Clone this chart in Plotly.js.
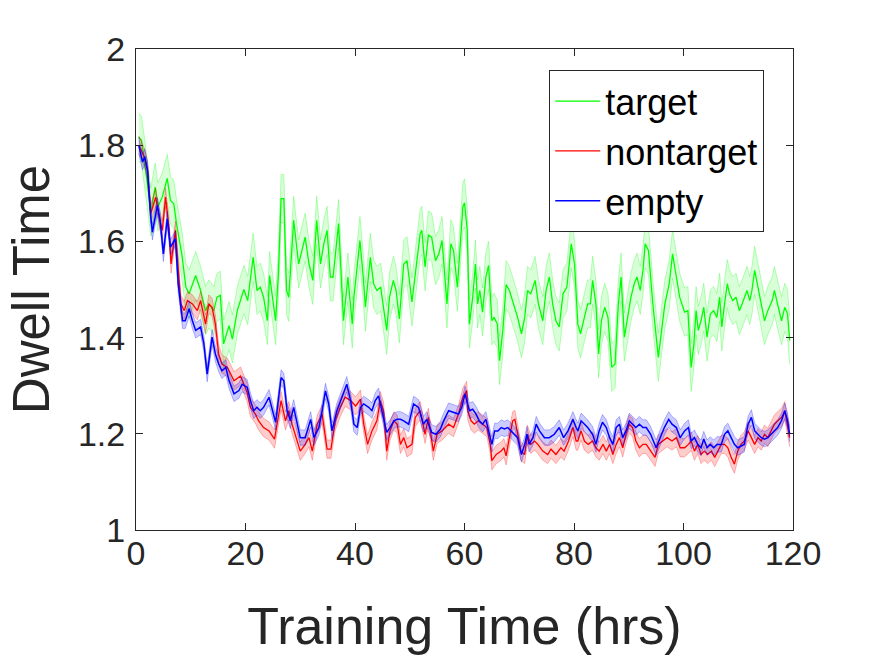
<!DOCTYPE html>
<html>
<head>
<meta charset="utf-8">
<script src="https://cdn.plot.ly/plotly-3.0.1.min.js"></script>
<style>
  html, body { margin: 0; padding: 0; background: #ffffff; }
  #chart { width: 875px; height: 656px; }
</style>
</head>
<body>
<div id="chart"></div>
<script>
// ---- data ----
const seriesNames = ["target", "nontarget", "empty"];

const targetHours = [0.5,1.0,2.0,2.7,3.5,4.0,4.8,5.7,6.3,6.9,7.4,8.4,9.1,9.7,10.9,11.8,12.7,13.3,14.2,14.8,15.4,16.0,17.0,17.6,18.5,19.1,
  19.7,20.4,21.4,22.1,22.7,23.3,24.0,24.4,24.9,25.5,26.0,26.5,27.0,27.5,27.9,28.8,29.7,30.9,31.6,32.3,33.0,33.7,34.3,34.9,35.5,36.0,37.0,37.9,38.7,39.5,
  39.8,40.4,40.9,41.5,41.9,42.8,43.4,44.0,44.7,45.2,45.8,46.3,47.0,47.5,48.1,48.9,49.5,50.4,51.3,51.9,52.2,52.8,53.4,54.0,54.7,55.3,55.9,56.8,57.5,58.0,58.7,59.7,
  60.0,60.5,60.9,61.5,62.0,62.4,62.8,63.3,63.9,64.4,65.0,65.4,66.0,66.4,67.0,67.6,68.2,68.8,69.7,70.4,71.0,71.5,72.1,72.9,73.5,74.3,74.9,75.5,76.1,76.7,77.3,78.0,78.7,79.5,80.1,80.7,
  81.2,81.9,82.5,83.0,83.4,84.0,84.5,85.0,85.6,86.2,86.9,87.5,88.1,88.6,89.2,89.8,90.4,91.0,91.5,92.1,92.6,93.0,93.6,94.4,95.4,96.0,96.6,97.4,98.0,98.7,99.3,100.2,
  100.8,101.4,101.9,102.3,102.7,103.2,103.7,104.3,104.9,105.5,106.1,106.6,107.0,107.5,108.0,108.4,109.0,109.6,110.2,110.7,111.2,111.6,112.1,112.5,113.0,113.6,114.2,114.8,115.4,116.2,116.6,117.2,117.9,118.5,119.0,119.4];
const targetDwell = [1.817,1.810,1.727,1.661,1.713,1.672,1.692,1.731,1.685,1.678,1.637,1.571,1.505,1.491,1.529,1.498,1.456,1.470,1.456,1.484,1.488,1.387,1.425,1.397,1.456,1.477,
  1.500,1.477,1.567,1.498,1.505,1.484,1.435,1.529,1.484,1.435,1.530,1.689,1.689,1.498,1.484,1.644,1.553,1.609,1.553,1.519,1.644,1.553,1.595,1.623,1.526,1.526,1.637,1.435,1.526,1.428,
  1.484,1.547,1.602,1.526,1.463,1.567,1.512,1.498,1.505,1.463,1.415,1.484,1.519,1.498,1.439,1.553,1.560,1.474,1.560,1.616,1.623,1.547,1.613,1.609,1.560,1.574,1.602,1.470,1.595,1.581,1.505,1.672,
  1.680,1.623,1.428,1.484,1.553,1.470,1.498,1.453,1.526,1.550,1.435,1.442,1.428,1.352,1.415,1.510,1.498,1.477,1.442,1.408,1.442,1.498,1.491,1.519,1.470,1.435,1.498,1.526,1.470,1.435,1.422,1.491,1.505,1.595,1.553,1.428,
  1.408,1.442,1.470,1.470,1.519,1.470,1.366,1.435,1.463,1.442,1.338,1.345,1.470,1.526,1.401,1.442,1.484,1.512,1.526,1.498,1.540,1.595,1.581,1.470,1.359,1.415,1.470,1.512,1.574,1.526,1.484,1.453,
  1.456,1.338,1.387,1.456,1.415,1.435,1.463,1.401,1.449,1.456,1.442,1.484,1.422,1.470,1.512,1.491,1.477,1.484,1.456,1.470,1.484,1.498,1.477,1.498,1.540,1.505,1.463,1.435,1.456,1.477,1.498,1.470,1.435,1.463,1.449,1.394];

const nontargetHours = [0.5,1.5,2.1,2.7,3.6,4.2,4.8,5.4,6.0,6.4,7.2,8.2,8.8,9.4,10.3,11.2,11.8,12.7,13.3,13.9,14.5,15.1,15.7,16.7,17.9,19.1,
  20.3,20.9,21.8,22.4,23.3,24.3,25.3,26.1,26.5,27.3,27.9,28.5,29.4,30.0,30.9,31.6,32.2,33.1,34.0,34.9,35.6,36.4,37.3,38.2,39.2,40.1,
  40.4,41.0,41.6,42.3,43.1,44.0,44.6,45.2,45.8,46.4,47.1,47.7,48.3,48.9,49.5,50.4,51.0,51.9,52.8,53.4,54.3,55.0,55.9,57.1,58.0,58.9,59.7,60.4,
  60.6,61.2,61.8,62.5,63.3,64.1,64.7,65.0,65.8,66.7,67.2,67.6,68.2,68.8,69.2,69.7,70.3,71.0,71.5,72.1,72.8,73.4,74.3,75.2,75.8,76.7,77.6,78.2,79.0,79.8,80.4,
  80.7,81.3,81.9,82.6,83.4,84.0,84.6,85.3,85.9,86.5,87.1,87.7,88.3,88.9,89.5,90.1,90.7,91.3,91.95,92.6,93.2,94.1,94.8,95.4,96.2,97.0,97.9,98.7,99.4,100.2,100.9,
  101.4,102.0,102.6,103.2,103.8,104.4,105.1,105.7,106.3,106.9,107.5,108.1,108.7,109.3,109.9,110.5,111.1,111.8,112.4,113.0,113.6,114.2,114.8,115.4,116.0,116.6,117.2,117.9,118.5,119.0,119.4];
const nontargetDwell = [1.800,1.776,1.748,1.658,1.692,1.651,1.623,1.692,1.630,1.553,1.623,1.470,1.456,1.477,1.470,1.456,1.477,1.428,1.470,1.463,1.428,1.366,1.345,1.338,1.310,1.320,
  1.286,1.255,1.241,1.227,1.213,1.206,1.189,1.248,1.269,1.227,1.248,1.220,1.185,1.164,1.178,1.192,1.164,1.220,1.241,1.168,1.168,1.227,1.255,1.276,1.269,1.258,
  1.262,1.272,1.220,1.178,1.206,1.227,1.269,1.248,1.164,1.206,1.227,1.220,1.178,1.192,1.171,1.178,1.234,1.248,1.199,1.234,1.164,1.199,1.206,1.220,1.213,1.241,1.276,1.290,
  1.248,1.227,1.220,1.227,1.220,1.213,1.178,1.144,1.157,1.164,1.171,1.154,1.192,1.227,1.230,1.199,1.164,1.157,1.199,1.178,1.185,1.178,1.164,1.157,1.168,1.157,1.171,1.164,1.185,1.213,1.185,
  1.185,1.206,1.185,1.178,1.185,1.171,1.164,1.178,1.164,1.178,1.157,1.178,1.192,1.171,1.199,1.220,1.213,1.185,1.171,1.178,1.178,1.164,1.151,1.178,1.185,1.192,1.185,1.192,1.171,1.171,1.178,
  1.185,1.164,1.178,1.157,1.164,1.157,1.164,1.151,1.164,1.178,1.178,1.171,1.151,1.137,1.164,1.178,1.185,1.206,1.192,1.178,1.192,1.185,1.199,1.192,1.206,1.220,1.227,1.234,1.248,1.220,1.192];

const emptyHours = [0.5,1.2,1.6,2.1,2.7,3.0,3.9,4.4,5.0,5.7,6.3,7.2,7.7,8.5,9.0,9.7,10.3,10.9,11.8,12.4,13.0,13.9,14.5,15.1,15.7,16.4,17.0,17.9,18.8,19.4,
  20.3,20.9,21.5,22.1,22.7,23.3,24.3,24.9,25.5,26.5,27.0,27.6,28.2,28.8,29.4,30.0,30.9,31.9,32.5,33.4,34.0,34.6,35.2,35.8,36.7,37.6,38.5,39.2,39.8,
  40.4,41.0,41.6,42.5,43.1,43.7,44.3,44.9,45.8,46.4,47.1,47.7,48.3,48.9,49.8,50.7,51.6,52.5,53.1,54.0,54.8,55.6,56.2,57.1,58.0,58.9,59.5,60.1,
  60.4,60.9,61.5,62.1,62.7,63.3,63.9,64.5,65.0,65.5,66.1,66.7,67.3,67.9,68.5,69.1,69.7,70.4,71.0,71.4,71.8,72.5,73.1,73.7,74.6,75.5,76.4,77.3,78.1,78.9,79.8,80.4,
  80.7,81.3,81.9,82.5,83.4,84.0,84.6,85.2,85.9,86.5,87.1,87.7,88.3,88.9,89.5,90.1,90.7,91.3,91.95,92.6,93.2,94.0,95.0,95.8,96.5,97.3,97.9,98.7,99.4,100.2,100.9,
  101.4,102.0,102.6,103.2,103.7,104.3,104.9,105.5,106.1,106.9,107.5,108.1,108.7,109.3,109.9,110.5,111.1,111.8,112.4,113.0,113.6,114.2,114.8,115.4,116.0,116.6,117.2,117.9,118.5,119.0,119.4];
const emptyDwell = [1.800,1.765,1.776,1.748,1.651,1.619,1.675,1.644,1.574,1.647,1.588,1.606,1.512,1.435,1.435,1.460,1.435,1.415,1.422,1.387,1.324,1.401,1.366,1.345,1.331,1.338,1.310,1.283,1.290,1.303,
  1.297,1.269,1.248,1.255,1.248,1.255,1.276,1.248,1.224,1.317,1.310,1.248,1.227,1.255,1.220,1.192,1.192,1.230,1.192,1.213,1.248,1.289,1.262,1.206,1.248,1.276,1.303,1.269,1.220,
  1.213,1.255,1.262,1.255,1.248,1.269,1.279,1.248,1.203,1.213,1.227,1.230,1.230,1.227,1.220,1.262,1.255,1.220,1.230,1.203,1.199,1.210,1.227,1.248,1.244,1.241,1.255,1.283,
  1.269,1.248,1.251,1.241,1.227,1.220,1.230,1.199,1.178,1.206,1.206,1.213,1.210,1.213,1.206,1.199,1.192,1.157,1.178,1.199,1.178,1.192,1.220,1.206,1.192,1.192,1.199,1.213,1.192,1.206,1.230,1.213,
  1.206,1.227,1.220,1.213,1.199,1.178,1.206,1.224,1.213,1.192,1.178,1.213,1.220,1.192,1.206,1.227,1.220,1.213,1.220,1.213,1.213,1.199,1.171,1.192,1.213,1.230,1.220,1.213,1.192,1.206,1.213,
  1.185,1.192,1.178,1.171,1.189,1.171,1.178,1.171,1.178,1.178,1.199,1.206,1.192,1.178,1.171,1.175,1.178,1.220,1.234,1.206,1.199,1.192,1.189,1.192,1.199,1.206,1.213,1.227,1.248,1.227,1.199];

// standard error half-widths of the shaded bands
const targetSem = 0.05;
const nontargetSem = 0.019;
const emptySem = 0.016;

const xTicks = [0, 20, 40, 60, 80, 100, 120];
const yTicks = [1, 1.2, 1.4, 1.6, 1.8, 2];
const yTickLabels = ["1", "1.2", "1.4", "1.6", "1.8", "2"];

// ---- styling ----
const styles = {
  target:    { line: "#00ff00", edge: "rgba(0,255,0,0.35)", fill: "rgba(0,255,0,0.15)", width: 1.3 },
  nontarget: { line: "#ff0000", edge: "rgba(255,0,0,0.35)", fill: "rgba(255,0,0,0.2)", width: 1.3 },
  empty:     { line: "#0000ff", edge: "rgba(0,0,255,0.35)", fill: "rgba(0,0,255,0.2)", width: 1.5 }
};

function bandTraces(name, xs, ys, sem) {
  const st = styles[name];
  const lower = ys.map(v => v - sem);
  const upper = ys.map(v => v + sem);
  return [
    { x: xs, y: lower, type: "scatter", mode: "lines", line: { color: st.edge, width: 0.8 },
      showlegend: false, hoverinfo: "skip" },
    { x: xs, y: upper, type: "scatter", mode: "lines", line: { color: st.edge, width: 0.8 },
      fill: "tonexty", fillcolor: st.fill, showlegend: false, hoverinfo: "skip" },
    { x: xs, y: ys, type: "scatter", mode: "lines", name: name,
      line: { color: st.line, width: st.width } }
  ];
}

const traces = [].concat(
  bandTraces("target", targetHours, targetDwell, targetSem),
  bandTraces("nontarget", nontargetHours, nontargetDwell, nontargetSem),
  bandTraces("empty", emptyHours, emptyDwell, emptySem)
);

const axisColor = "#262626";
const fontFamily = "'Liberation Sans', Arial, Helvetica, sans-serif";

const layout = {
  width: 875, height: 656,
  margin: { l: 136, r: 82, t: 49, b: 126 },
  paper_bgcolor: "#ffffff", plot_bgcolor: "#ffffff",
  font: { family: fontFamily, color: axisColor },
  showlegend: true,
  legend: {
    x: 0.629, y: 0.956, xanchor: "left", yanchor: "top",
    traceorder: "normal",
    bgcolor: "#ffffff", bordercolor: axisColor, borderwidth: 1,
    font: { family: fontFamily, size: 36, color: "#000000" },
    itemwidth: 45
  },
  xaxis: {
    range: [0, 120], tickvals: xTicks, ticktext: xTicks.map(String),
    ticks: "inside", ticklen: 7, tickcolor: axisColor, tickwidth: 1,
    showline: true, linecolor: axisColor, linewidth: 1, mirror: "ticks",
    showgrid: false, zeroline: false,
    ticklabelstandoff: -7,
    tickfont: { size: 34, color: axisColor, family: fontFamily },
    title: { text: "Training Time (hrs)", font: { size: 52, color: axisColor, family: fontFamily }, standoff: 36 }
  },
  yaxis: {
    range: [1, 2], tickvals: yTicks, ticktext: yTickLabels,
    ticks: "inside", ticklen: 7, tickcolor: axisColor, tickwidth: 1,
    showline: true, linecolor: axisColor, linewidth: 1, mirror: "ticks",
    showgrid: false, zeroline: false,
    ticklabelstandoff: 3,
    tickfont: { size: 34, color: axisColor, family: fontFamily },
    title: { text: "Dwell Time", font: { size: 51, color: axisColor, family: fontFamily }, standoff: 12 }
  }
};

Plotly.newPlot("chart", traces, layout, { staticPlot: true, displayModeBar: false });
</script>
</body>
</html>
